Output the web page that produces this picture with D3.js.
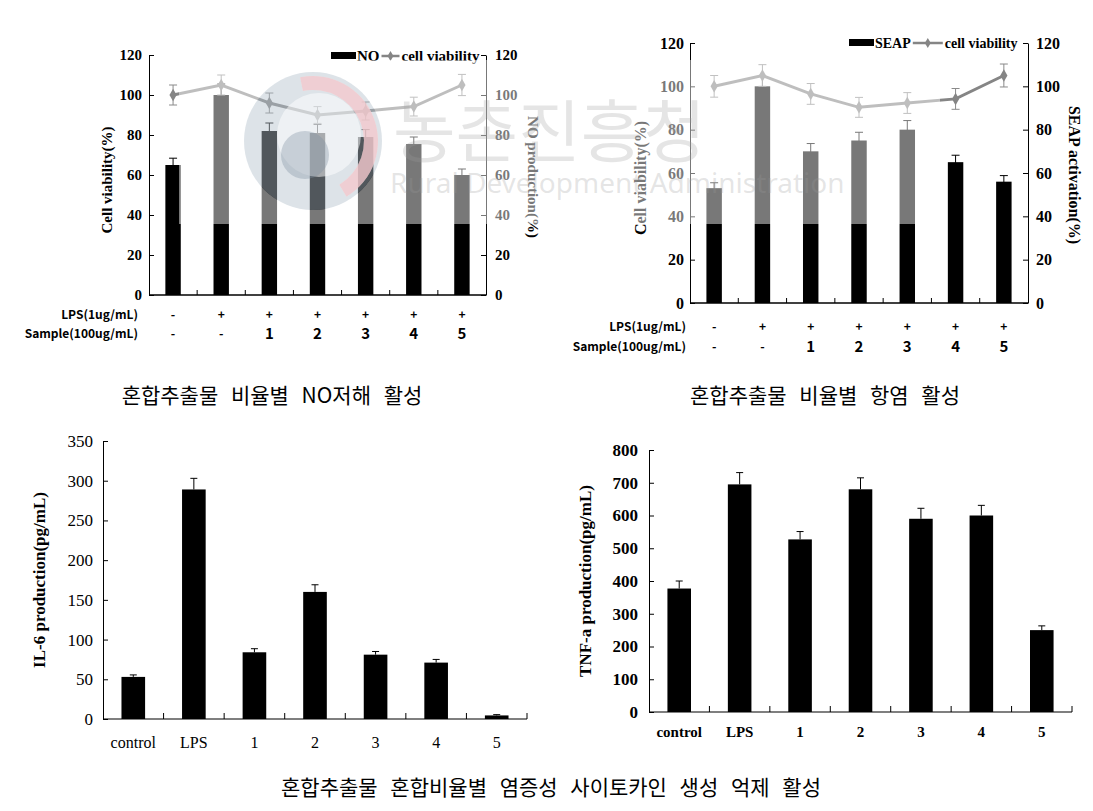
<!DOCTYPE html>
<html><head><meta charset="utf-8">
<script src="https://cdn.jsdelivr.net/npm/d3@7"></script>
<style>body{margin:0;background:#fff}svg{display:block}</style>
</head><body>
<script>
// ---------- DATA ----------
const lpsRow = ["-", "+", "+", "+", "+", "+", "+"];
const sampleRow = ["-", "-", "1", "2", "3", "4", "5"];
const pctTicks = [0, 20, 40, 60, 80, 100, 120];

const noValues = [65, 100, 82, 81, 79, 75.5, 60];
const noErr = [3.4, 5.5, 4, 4.3, 3.7, 3.5, 3];
const viab1 = [100, 105, 96, 90, 92, 94.2, 105];
const viab1Err = [5, 5, 5, 4.2, 4.5, 4.7, 5.3];

const seapValues = [53, 100, 70, 75, 80, 65, 56];
const seapErr = [2.5, 4.6, 3.6, 3.8, 4.2, 3.2, 2.8];
const viab2 = [100, 105, 96.5, 90.3, 92.3, 94.2, 105];
const viab2Err = [5, 5, 4.8, 4.6, 4.8, 4.8, 5.3];

const cytoCats = ["control", "LPS", "1", "2", "3", "4", "5"];
const il6Values = [53, 289, 84, 160, 81, 71, 4.5];
const il6Err = [2.5, 14, 4.5, 9, 4, 4, 1];
const il6Ticks = [0, 50, 100, 150, 200, 250, 300, 350];
const tnfValues = [377, 695, 527, 680, 590, 600, 250];
const tnfErr = [23, 36, 24, 35, 32, 31, 13];
const tnfTicks = [0, 100, 200, 300, 400, 500, 600, 700, 800];

const captions = ["혼합추출물 비율별 NO저해 활성", "혼합추출물 비율별 항염 활성", "혼합추출물 혼합비율별 염증성 사이토카인 생성 억제 활성"];

// ---------- DRAW ----------
const W = 1093, H = 811;
const svg = d3.select("body").append("svg").attr("width", W).attr("height", H);
const SERIF = "'Liberation Serif','Times New Roman',serif";
const KSANS = "'Noto Sans CJK KR','Noto Sans',sans-serif";

function errBar(g, cx, yTop, yBot, cap, color) {
  g.append("line").attr("x1", cx).attr("x2", cx).attr("y1", yTop).attr("y2", yBot).attr("stroke", color).attr("stroke-width", 1);
  g.append("line").attr("x1", cx - cap / 2).attr("x2", cx + cap / 2).attr("y1", yTop).attr("y2", yTop).attr("stroke", color).attr("stroke-width", 1);
}
function errBar2(g, cx, yTop, yBot, cap, color) {
  errBar(g, cx, yTop, yBot, cap, color);
  g.append("line").attr("x1", cx - cap / 2).attr("x2", cx + cap / 2).attr("y1", yBot).attr("y2", yBot).attr("stroke", color).attr("stroke-width", 1);
}

function topChart(o) {
  const g = svg.append("g");
  const x = d3.scaleBand().domain(d3.range(o.bars.length)).range([o.x0, o.x1]);
  const y = d3.scaleLinear().domain([0, 120]).range([o.yb, o.yt]);
  const cx = i => x(i) + x.bandwidth() / 2;
  const bw = x.bandwidth() * 0.32;
  const la = g.append("g").attr("transform", `translate(${o.x0},0)`)
    .call(d3.axisLeft(y).tickValues(pctTicks).tickSize(-5).tickSizeOuter(0).tickPadding(o.pad));
  const ra = g.append("g").attr("transform", `translate(${o.x1},0)`)
    .call(d3.axisRight(y).tickValues(pctTicks).tickSize(-5).tickSizeOuter(0).tickPadding(o.pad + 2));
  [la, ra].forEach(a => {
    a.selectAll("path,line").attr("stroke", "#000");
    a.selectAll("text").attr("font-family", SERIF).attr("font-weight", "bold").attr("font-size", o.fs).attr("fill", "#000");
  });
  g.append("line").attr("x1", o.x0).attr("x2", o.x1).attr("y1", y(0)).attr("y2", y(0)).attr("stroke", "#000").attr("stroke-width", 1.5);
  for (let k = 1; k < o.bars.length; k++) {
    g.append("line").attr("x1", x(k)).attr("x2", x(k)).attr("y1", y(0)).attr("y2", y(0) - 5).attr("stroke", "#000");
  }
  g.selectAll("rect.bar").data(o.bars).join("rect").attr("class", "bar")
    .attr("x", (d, i) => cx(i) - bw / 2).attr("width", bw)
    .attr("y", d => y(d)).attr("height", d => y(0) - y(d)).attr("fill", "#000");
  o.bars.forEach((d, i) => errBar2(g, cx(i), y(d + o.barErr[i]), y(d - o.barErr[i]), 8, "#000"));
  const lc = "#858585";
  g.append("path").datum(o.line).attr("fill", "none").attr("stroke", lc).attr("stroke-width", 3)
    .attr("d", d3.line().x((d, i) => cx(i)).y(d => y(d)));
  o.line.forEach((d, i) => errBar2(g, cx(i), y(d + o.lineErr[i]), y(d - o.lineErr[i]), 8, "#8a8a8a"));
  g.selectAll("path.mk").data(o.line).join("path").attr("class", "mk")
    .attr("transform", (d, i) => `translate(${cx(i)},${y(d)})`)
    .attr("d", d3.symbol(d3.symbolDiamond, 45)).attr("fill", lc);
  g.append("text").attr("transform", `translate(${o.ltX},${(o.yb + o.yt) / 2 + 5}) rotate(-90)`)
    .attr("text-anchor", "middle").attr("font-family", SERIF).attr("font-weight", "bold").attr("font-size", o.tfs)
    .text("Cell viability(%)");
  g.append("text").attr("transform", `translate(${o.rtX},${(o.yb + o.yt) / 2 + 2}) rotate(90)`)
    .attr("text-anchor", "middle").attr("font-family", SERIF).attr("font-weight", "bold").attr("font-size", o.tfs)
    .text(o.rightTitle);
  const lg = g.append("g").attr("font-family", SERIF).attr("font-weight", "bold").attr("font-size", o.lfs);
  lg.append("rect").attr("x", o.legX).attr("y", o.legY - 4).attr("width", 25).attr("height", 7).attr("fill", "#000");
  const t1 = lg.append("text").attr("x", o.legX + 26).attr("y", o.legY + 5).text(o.barName);
  const w1 = t1.node().getComputedTextLength();
  const lx = o.legX + 26 + w1 + 2;
  lg.append("line").attr("x1", lx).attr("x2", lx + o.legLine).attr("y1", o.legY).attr("y2", o.legY).attr("stroke", lc).attr("stroke-width", 2.5);
  lg.append("path").attr("transform", `translate(${lx + o.legLine / 2},${o.legY})`).attr("d", d3.symbol(d3.symbolDiamond, 30)).attr("fill", lc);
  lg.append("text").attr("x", lx + o.legLine + 2).attr("y", o.legY + 5).text("cell viability");
  const rl = g.append("g").attr("font-family", KSANS).attr("font-weight", "bold").attr("fill", "#000");
  rl.append("text").attr("x", o.rowLabX).attr("y", o.row1).attr("text-anchor", "end").attr("font-size", 12).text("LPS(1ug/mL)");
  rl.append("text").attr("x", o.rowLabX).attr("y", o.row2).attr("text-anchor", "end").attr("font-size", 12).text("Sample(100ug/mL)");
  lpsRow.forEach((s, i) => rl.append("text").attr("x", cx(i)).attr("y", o.row1).attr("text-anchor", "middle").attr("font-size", 12).text(s));
  sampleRow.forEach((s, i) => rl.append("text").attr("x", cx(i)).attr("y", o.row2 + (s === "-" ? 0 : 1)).attr("text-anchor", "middle")
    .attr("font-size", s === "-" ? 12 : 15).text(s));
}

topChart({ bars: noValues, barErr: noErr, line: viab1, lineErr: viab1Err, x0: 149, x1: 486, yt: 55, yb: 295,
  pad: 7, fs: 15, tfs: 15, ltX: 112, rtX: 528, rightTitle: "NO production(%)", barName: "NO",
  legX: 331, legY: 56, lfs: 15, legLine: 18, rowLabX: 138, row1: 319, row2: 338 });
topChart({ bars: seapValues, barErr: seapErr, line: viab2, lineErr: viab2Err, x0: 690, x1: 1028, yt: 43, yb: 303,
  pad: 6, fs: 16, tfs: 16, ltX: 646, rtX: 1069, rightTitle: "SEAP activation(%)", barName: "SEAP",
  legX: 849, legY: 43, lfs: 14, legLine: 30, rowLabX: 686, row1: 331, row2: 351 });

// ---------- watermark overlay ----------
const ov = { x0: 179, x1: 940, y0: 60, y1: 224 };
const logo = { cx: 313, cy: 141, r: 69 };
const circPath = (cx, cy, r) => `M${cx - r},${cy} a${r},${r} 0 1,0 ${2 * r},0 a${r},${r} 0 1,0 ${-2 * r},0 Z`;
svg.append("path")
  .attr("d", `M${ov.x0},${ov.y0} H${ov.x1} V${ov.y1} H${ov.x0} Z ` + circPath(logo.cx, logo.cy, logo.r))
  .attr("fill", "#fff").attr("fill-opacity", 0.47).attr("fill-rule", "evenodd");
const lgG = svg.append("g");
lgG.append("path").attr("d", circPath(logo.cx, logo.cy, logo.r)).attr("fill", "#b4c0cc").attr("fill-opacity", 0.45);
const arc = d3.arc().innerRadius(logo.r - 18).outerRadius(logo.r - 4);
lgG.append("path").attr("transform", `translate(${logo.cx},${logo.cy})`)
  .attr("d", arc({ startAngle: -0.2, endAngle: 2.6 })).attr("fill", "#fff").attr("fill-opacity", 0.5);
lgG.append("path").attr("transform", `translate(${logo.cx},${logo.cy})`)
  .attr("d", arc({ startAngle: -0.2, endAngle: 2.6 })).attr("fill", "#f0b8bc").attr("fill-opacity", 0.6);
lgG.append("path").attr("d", circPath(logo.cx + 6, logo.cy - 6, 42)).attr("fill", "#fff").attr("fill-opacity", 0.5);
lgG.append("path").attr("d", circPath(logo.cx - 8, logo.cy + 14, 24)).attr("fill", "#7f8fa0").attr("fill-opacity", 0.35);
svg.append("text").attr("x", 393).attr("y", 157).attr("font-family", KSANS).attr("font-size", 68)
  .attr("fill", "#9a9a9a").attr("fill-opacity", 0.26).text("농촌진흥청");
svg.append("text").attr("x", 390).attr("y", 193).attr("font-family", "'Noto Sans',sans-serif").attr("font-size", 28)
  .attr("fill", "#9a9a9a").attr("fill-opacity", 0.26).text("Rural Development Administration");

// ---------- bottom charts ----------
function botChart(o) {
  const g = svg.append("g");
  const x = d3.scaleBand().domain(cytoCats).range([o.x0, o.x1]);
  const y = d3.scaleLinear().domain([0, o.max]).range([o.yb, o.yt]);
  const bw = x.bandwidth() * 0.39;
  const cx = c => x(c) + x.bandwidth() / 2;
  const ya = g.append("g").attr("transform", `translate(${o.x0},0)`)
    .call(d3.axisLeft(y).tickValues(o.ticks).tickSize(-5).tickSizeOuter(0).tickPadding(o.pad));
  ya.selectAll("path,line").attr("stroke", "#000");
  ya.selectAll("text").attr("font-family", SERIF).attr("font-weight", o.bold ? "bold" : "normal").attr("font-size", 17).attr("fill", "#000");
  g.append("line").attr("x1", o.x0).attr("x2", o.x1).attr("y1", y(0)).attr("y2", y(0)).attr("stroke", "#000").attr("stroke-width", 1.2);
  for (let k = 1; k <= cytoCats.length; k++) {
    const xx = o.x0 + k * x.step();
    g.append("line").attr("x1", xx).attr("x2", xx).attr("y1", y(0)).attr("y2", y(0) - 6).attr("stroke", "#000");
  }
  g.selectAll("rect.bar").data(o.vals).join("rect")
    .attr("x", (d, i) => cx(cytoCats[i]) - bw / 2).attr("width", bw)
    .attr("y", d => y(d)).attr("height", d => y(0) - y(d)).attr("fill", "#000");
  o.vals.forEach((d, i) => errBar(g, cx(cytoCats[i]), y(d + o.err[i]), y(d), 7, "#000"));
  g.selectAll("text.xl").data(cytoCats).join("text")
    .attr("x", d => cx(d)).attr("y", o.labY).attr("text-anchor", "middle")
    .attr("font-family", SERIF).attr("font-weight", o.bold ? "bold" : "normal").attr("font-size", o.xfs).text(d => d);
  g.append("text").attr("transform", `translate(${o.tX},${(o.yb + o.yt) / 2}) rotate(-90)`)
    .attr("text-anchor", "middle").attr("font-family", SERIF).attr("font-weight", "bold").attr("font-size", 17)
    .text(o.title);
}
botChart({ vals: il6Values, err: il6Err, max: 350, ticks: il6Ticks, x0: 103, x1: 527, yt: 441, yb: 719,
  pad: 10, bold: false, xfs: 16, labY: 748, tX: 45, title: "IL-6 production(pg/mL)" });
botChart({ vals: tnfValues, err: tnfErr, max: 800, ticks: tnfTicks, x0: 649, x1: 1072, yt: 450, yb: 712,
  pad: 11, bold: true, xfs: 15, labY: 737, tX: 591, title: "TNF-a production(pg/mL)" });

// ---------- captions ----------
const capPos = [[272, 403], [825, 403], [551, 795]];
captions.forEach((c, i) => svg.append("text").attr("x", capPos[i][0]).attr("y", capPos[i][1])
  .attr("text-anchor", "middle").attr("font-family", KSANS).attr("font-size", 21).attr("word-spacing", 8)
  .attr("fill", "#000").text(c));
</script>
</body></html>
